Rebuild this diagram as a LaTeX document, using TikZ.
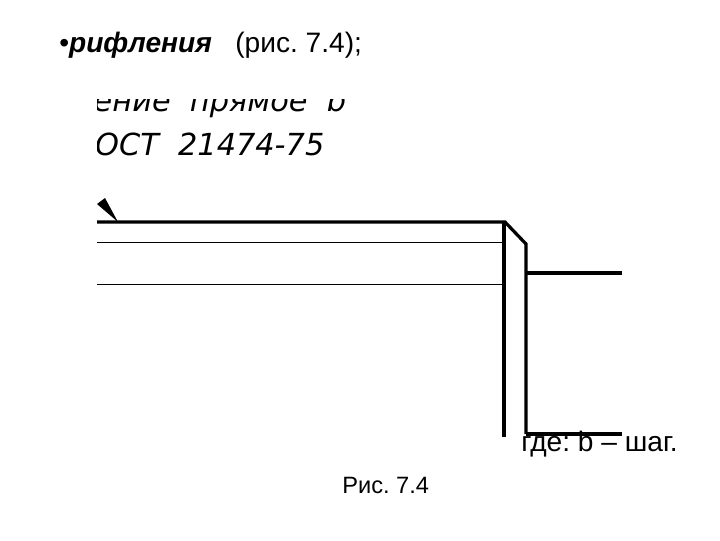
\documentclass[tikz,border=0pt]{standalone}
\usepackage{fontspec}
\setmainfont{Liberation Sans}
\newfontfamily\drawfont{DejaVu Sans}
\frenchspacing
\tikzset{
	thickline/.style={line width=2.3pt},
	thinline/.style={line width=0.7pt},
	plain/.style={inner sep=0pt,anchor=base west},
	headfont/.style={font=\fontsize{20pt}{22pt}\selectfont},
	notefont/.style={font=\fontsize{20pt}{22pt}\selectfont},
	capfont/.style={font=\fontsize{16.8pt}{18pt}\selectfont},
	markfont/.style={font=\drawfont\itshape\fontsize{21.6pt}{24pt}\selectfont}
}
\begin{document}
\begin{tikzpicture}[x=0.025cm,y=-0.025cm]
	\useasboundingbox (0,0) rectangle (720,540);
	\node[plain,headfont] (bullet) at (59,52) {•\textbf{\textit{рифления}}};
	\node[plain,headfont] (ref) at (235,52) {(рис. 7.4);};
	\begin{scope}
		\clip (97,99) rectangle (400,170);
		\node[plain,markfont] (markup) at (10,111) {Рифление\ \ прямое\ \ b};
		\node[plain,markfont] (gost) at (78,155) {ГОСТ\ \ 21474-75};
	\end{scope}
	\node[plain,notefont] (note) at (521,451) {где: b – шаг.};
	\node[plain,capfont] (caption) at (342,493) {Рис. 7.4};
	\fill (97,204) -- (105,198) -- (118,222) -- cycle;
	\coordinate (a) at (97,222);
	\coordinate (b) at (505,222);
	\coordinate (c) at (526,244);
	\draw[thickline] (a) -- (b) -- (c) -- (526,434);
	\draw[thickline] (504,222) -- (504,437);
	\draw[thickline] (526,273) -- (622,273);
	\draw[thickline] (526,434) -- (622,434);
	\draw[thinline] (97,242) -- (503,242);
	\draw[thinline] (97,284) -- (503,284);
\end{tikzpicture}
\end{document}
